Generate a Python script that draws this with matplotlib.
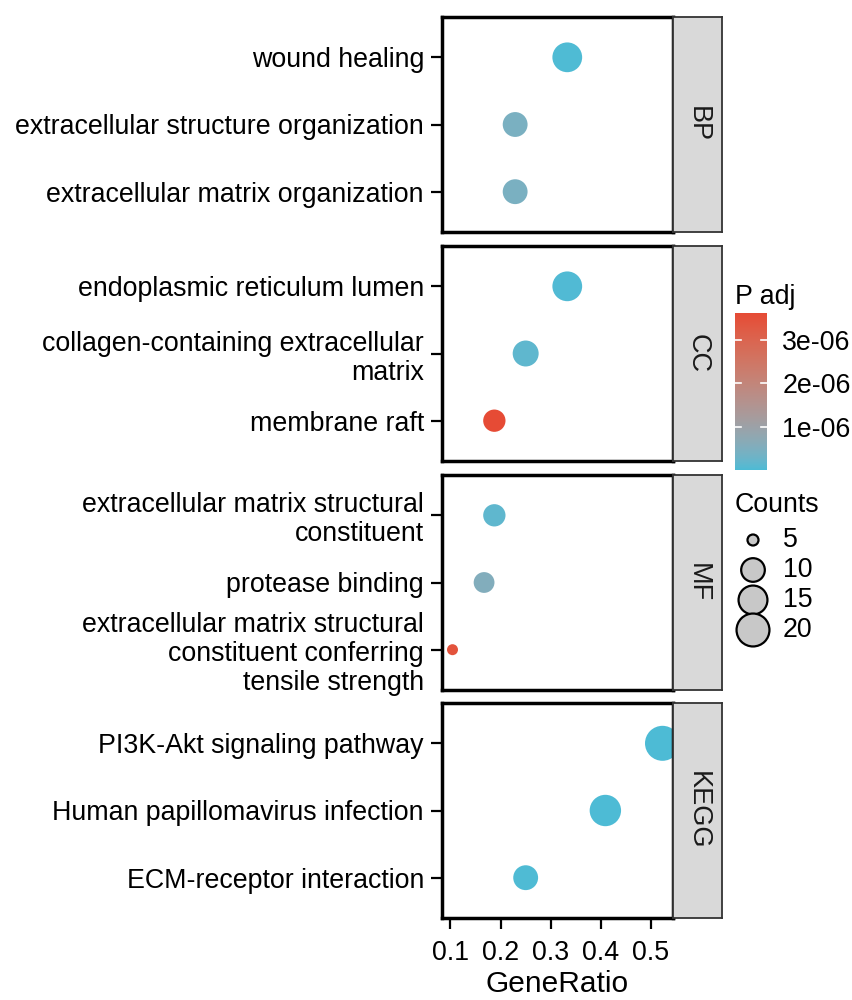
import matplotlib.pyplot as plt
import numpy as np
from matplotlib.colors import ListedColormap, Normalize

plt.rcParams["font.family"] = ["Liberation Sans", "DejaVu Sans"]

# enrichment results, one row per ontology / pathway database
categories = ["BP", "CC", "MF", "KEGG"]
terms = [
    ["wound healing", "extracellular structure organization",
     "extracellular matrix organization"],
    ["endoplasmic reticulum lumen", "collagen-containing extracellular\nmatrix",
     "membrane raft"],
    ["extracellular matrix structural\nconstituent", "protease binding",
     "extracellular matrix structural\nconstituent conferring\ntensile strength"],
    ["PI3K-Akt signaling pathway", "Human papillomavirus infection",
     "ECM-receptor interaction"],
]
gene_ratio = [
    [0.333, 0.229, 0.229],
    [0.333, 0.250, 0.1875],
    [0.1875, 0.167, 0.104],
    [0.523, 0.409, 0.250],
]
counts = [
    [16, 11, 11],
    [16, 12, 9],
    [9, 8, 5],
    [23, 18, 11],
]
p_adj = [
    [2e-8, 4.5e-7, 4.5e-7],
    [3e-8, 1.5e-7, 3.62e-6],
    [1.5e-7, 5.5e-7, 3.45e-6],
    [1e-9, 5e-9, 2e-8],
]
legend_counts = [5, 10, 15, 20]
color_ticks = [1e-6, 2e-6, 3e-6]
x_ticks = [0.1, 0.2, 0.3, 0.4, 0.5]

LOW, HIGH = "#4DBBD5", "#E64B35"
FS = 19.3


# gradient built in Lab space, like ggplot's scale_colour_gradient
def _srgb_to_lab(hexcol):
    rgb = np.array([int(hexcol[i:i + 2], 16) for i in (1, 3, 5)]) / 255.0
    lin = np.where(rgb <= 0.04045, rgb / 12.92, ((rgb + 0.055) / 1.055) ** 2.4)
    m = np.array([[0.4124, 0.3576, 0.1805],
                  [0.2126, 0.7152, 0.0722],
                  [0.0193, 0.1192, 0.9505]])
    xyz = m @ lin / np.array([0.95047, 1.0, 1.08883])
    f = np.where(xyz > 0.008856, np.cbrt(xyz), 7.787 * xyz + 16 / 116)
    return np.array([116 * f[1] - 16, 500 * (f[0] - f[1]), 200 * (f[1] - f[2])])


def _lab_to_srgb(lab):
    fy = (lab[..., 0] + 16) / 116
    fx = fy + lab[..., 1] / 500
    fz = fy - lab[..., 2] / 200
    f = np.stack([fx, fy, fz], axis=-1)
    xyz = np.where(f ** 3 > 0.008856, f ** 3, (f - 16 / 116) / 7.787)
    xyz = xyz * np.array([0.95047, 1.0, 1.08883])
    minv = np.array([[3.2406, -1.5372, -0.4986],
                     [-0.9689, 1.8758, 0.0415],
                     [0.0557, -0.2040, 1.0570]])
    lin = xyz @ minv.T
    rgb = np.where(lin <= 0.0031308, 12.92 * lin, 1.055 * np.clip(lin, 0, None) ** (1 / 2.4) - 0.055)
    return np.clip(rgb, 0, 1)


t = np.linspace(0, 1, 256)[:, None]
lab_lo, lab_hi = _srgb_to_lab(LOW), _srgb_to_lab(HIGH)
cmap = ListedColormap(_lab_to_srgb(lab_lo + t * (lab_hi - lab_lo)))

all_p = np.concatenate([np.array(r) for r in p_adj])
norm = Normalize(vmin=all_p.min(), vmax=all_p.max())

all_c = np.concatenate([np.array(r) for r in counts])
cmin, cmax = all_c.min(), all_c.max()


def marker_area(c):
    # diameter in px grows with sqrt of the rescaled count
    c = np.asarray(c, dtype=float)
    d_px = 11 + 24 * np.sqrt(np.clip((c - cmin) / (cmax - cmin), 0, None))
    return (d_px * 0.72) ** 2


all_x = np.concatenate([np.array(r) for r in gene_ratio])
span = all_x.max() - all_x.min()
xlim = (all_x.min() - 0.05 * span, all_x.max() + 0.05 * span)

W, H = 853, 1000
fig = plt.figure(figsize=(W / 100, H / 100), dpi=100)

px_left, px_right, strip_right = 442, 673, 722
panel_h = 215
tops = [17, 246, 475, 703]

for k, cat in enumerate(categories):
    bottom = 1 - (tops[k] + panel_h) / H
    ax = fig.add_axes([px_left / W, bottom, (px_right - px_left) / W, panel_h / H])
    n = len(terms[k])
    ypos = np.arange(n)[::-1]
    ax.scatter(gene_ratio[k], ypos, s=marker_area(counts[k]),
               c=p_adj[k], cmap=cmap, norm=norm, edgecolors="none", zorder=3,
               clip_on=False)
    ax.set_xlim(*xlim)
    ax.set_ylim(-0.6, n - 0.4)
    ax.set_yticks(ypos)
    ax.set_yticklabels(terms[k], fontsize=FS, ha="right", linespacing=1.15)
    ax.set_xticks(x_ticks)
    for sp in ax.spines.values():
        sp.set_linewidth(2.5)
        sp.set_zorder(4)
    ax.tick_params(axis="y", length=8, width=1.6, pad=5)
    if k == len(categories) - 1:
        ax.tick_params(axis="x", length=8, width=1.6, pad=8, labelsize=FS)
        ax.set_xticklabels([f"{v:.1f}" for v in x_ticks])
        ax.set_xlabel("GeneRatio", fontsize=21.5, labelpad=3)
    else:
        ax.tick_params(axis="x", length=0, labelbottom=False)

    # facet strip on the right
    sax = fig.add_axes([px_right / W, bottom, (strip_right - px_right) / W, panel_h / H])
    sax.set_facecolor("#D9D9D9")
    sax.set_xticks([])
    sax.set_yticks([])
    for sp in sax.spines.values():
        sp.set_linewidth(1.3)
        sp.set_color("#333333")
    sax.text(0.5, 0.5, cat, rotation=-90, ha="center", va="center",
             fontsize=19.5, color="#1A1A1A", transform=sax.transAxes)

# colour bar for adjusted p-values
cax = fig.add_axes([735 / W, 1 - 470 / H, 32 / W, 157 / H])
grad = np.linspace(norm.vmin, norm.vmax, 256)[:, None]
cax.imshow(grad, cmap=cmap, norm=norm, aspect="auto", origin="lower",
           extent=[0, 1, norm.vmin, norm.vmax])
cax.set_xlim(0, 1)
cax.set_ylim(norm.vmin, norm.vmax)
cax.set_xticks([])
for sp in cax.spines.values():
    sp.set_visible(False)
for v in color_ticks:
    cax.plot([0, 0.2], [v, v], color="white", lw=1.2)
    cax.plot([0.8, 1], [v, v], color="white", lw=1.2)
cax.yaxis.tick_right()
cax.set_yticks(color_ticks)
cax.set_yticklabels([f"{v:.0e}" for v in color_ticks], fontsize=FS)
cax.tick_params(axis="y", length=0, pad=11)
fig.text(735 / W, 1 - 297 / H, "P adj", fontsize=FS, ha="left", va="center")

# size legend for gene counts
fig.text(735 / W, 1 - 505 / H, "Counts", fontsize=FS, ha="left", va="center")
lax = fig.add_axes([735 / W, 1 - 645 / H, 40 / W, 120 / H])
lax.set_xlim(0, 1)
lax.set_ylim(645, 525)
lax.axis("off")
ly = [540, 570, 600, 630]
lax.scatter([0.45] * len(legend_counts), ly, s=marker_area(legend_counts),
            facecolors="#C8C8C8", edgecolors="black", linewidths=1.6, clip_on=False)
for c, y in zip(legend_counts, ly):
    fig.text(783 / W, 1 - y / H, str(c), fontsize=FS, ha="left", va="center")

fig.savefig("out.png", dpi=100)
